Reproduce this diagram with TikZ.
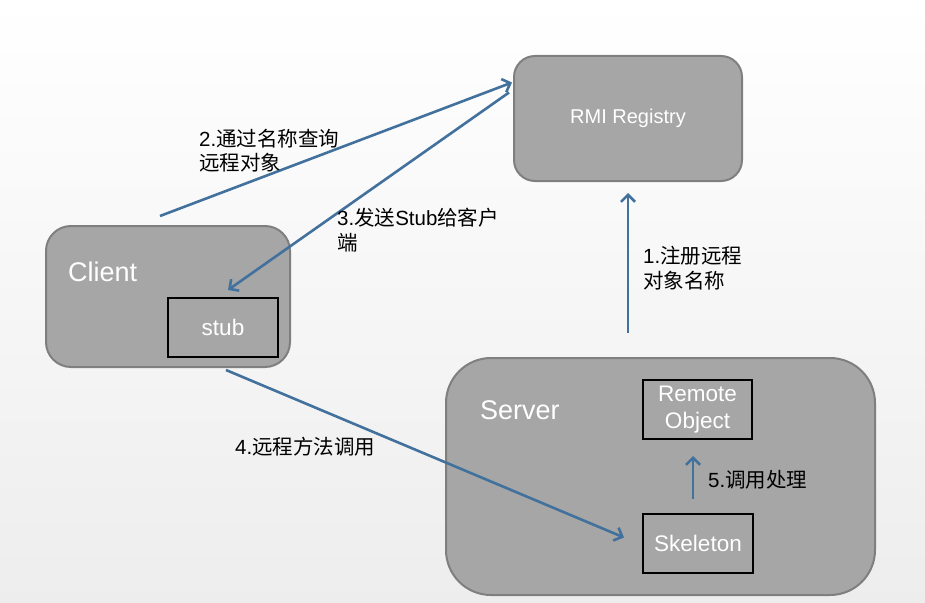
\documentclass[tikz,border=0pt]{standalone}
\usepackage{fontspec}
\setmainfont{Liberation Sans}
\newfontfamily\cjk{Noto Sans CJK SC}
\usetikzlibrary{arrows.meta,calc}
\definecolor{boxfill}{HTML}{A6A6A6}
\definecolor{boxline}{HTML}{7F7F7F}
\definecolor{arr}{HTML}{41719C}
\begin{document}
\begin{tikzpicture}[x=1pt,y=-1pt,
  big/.style={draw=boxline,line width=2pt,fill=boxfill,text=white,inner sep=0},
  innerbox/.style={draw=black,line width=2pt,fill=boxfill,text=white,align=center,inner sep=0,
    font=\fontsize{22.5}{26}\selectfont},
  conn/.style={draw=arr,line width=2.6pt,-{Straight Barb[length=7pt,width=14pt]}},
  lbl/.style={font=\fontsize{20.5}{24.5}\selectfont,align=left,anchor=north west,inner sep=0,text=black},
  title/.style={text=white,font=\fontsize{27}{30}\selectfont,anchor=west,inner sep=0}]
\fill[top color=white,bottom color=gray!14] (0,0) rectangle (925,602);
\useasboundingbox (0,0) rectangle (925,602);
% boxes
\node[big,rounded corners=21pt,minimum width=228pt,minimum height=125pt,font=\fontsize{20}{24}\selectfont] (reg) at (628,118.5) {RMI Registry};
\node[big,rounded corners=25pt,minimum width=244pt,minimum height=141pt] (client) at (168,296.5) {};
\node[big,rounded corners=45pt,minimum width=429pt,minimum height=237pt] (server) at (660.5,476.5) {};
\node[title] (clientt) at (68,272) {Client};
\node[title] (servert) at (480,410) {Server};
\node[innerbox,minimum width=110pt,minimum height=59pt] (stub) at (223,327.5) {stub};
\node[innerbox,minimum width=109pt,minimum height=59pt,font=\fontsize{22.5}{27}\selectfont] (remote) at (697.5,409.5) {Remote\\Object};
\node[innerbox,minimum width=110pt,minimum height=59pt] (skel) at (698,543.5) {Skeleton};
% connector end points
\coordinate (c2s) at (160,216);
\coordinate (c4s) at (226,370);
\coordinate (c1s) at (628,333);
\draw[conn] (c2s) -- ($(reg.west)+(-1,-36)$);
\draw[conn] ($(reg.west)+(-4,-26)$) -- ($(stub.north)+(5,-7)$);
\draw[conn] (c1s) -- ($(reg.south)+(0,11)$);
\draw[conn] (c4s) -- ($(skel.west)+(-18,-6)$);
\draw[conn] ($(skel.north)+(-5,-14)$) -- ($(remote.south)+(-4.5,16)$);
% labels
\node[lbl] (l2) at (199,129) {2.{\cjk 通过名称查询}\\{\cjk 远程对象}};
\node[lbl] (l3) at (337,208) {3.{\cjk 发送}Stub{\cjk 给客户}\\{\cjk 端}};
\node[lbl] (l1) at (643,246) {1.{\cjk 注册远程}\\{\cjk 对象名称}};
\node[lbl] (l4) at (235,437) {4.{\cjk 远程方法调用}};
\node[lbl] (l5) at (708,470) {5.{\cjk 调用处理}};
\end{tikzpicture}
\end{document}
